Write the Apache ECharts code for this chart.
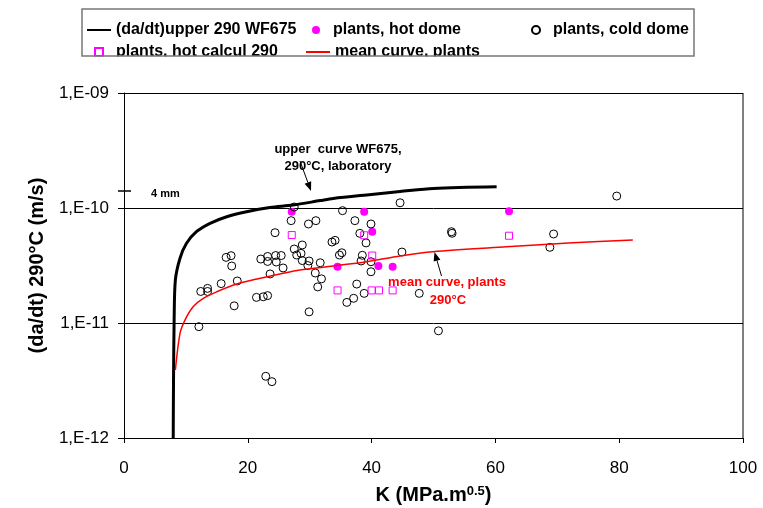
<!DOCTYPE html>
<html><head><meta charset="utf-8">
<script src="https://cdn.jsdelivr.net/npm/echarts@6/dist/echarts.min.js"></script>
<style>html,body{margin:0;padding:0;background:#fff}#c{width:763px;height:508px}</style>
</head><body><div id="c"></div>
<script>
// ---- data (K in MPa.m^0.5, da/dt in m/s) ----
const upperCurveK    = [7.95, 8.0, 8.1, 8.3, 9.05, 10.1, 11.7, 13.9, 16.6, 19.8, 23.6, 27.3, 31.7, 33.8, 39.2, 44.6, 50.0, 60.2];
const upperCurveRate = [1e-12, 3.19e-12, 1.06e-11, 2.37e-11, 3.66e-11, 4.93e-11, 6.22e-11, 7.36e-11, 8.40e-11, 9.28e-11, 1.01e-10, 1.06e-10, 1.16e-10, 1.21e-10, 1.30e-10, 1.39e-10, 1.48e-10, 1.53e-10];

const meanCurveK    = [8.3, 9.05, 9.85, 11.2, 12.8, 15.0, 18.2, 22.0, 25.2, 28.4, 33.8, 39.2, 44.6, 49.9, 61.8, 72.5, 82.2];
const meanCurveRate = [3.90e-12, 8.13e-12, 1.06e-11, 1.39e-11, 1.64e-11, 1.87e-11, 2.18e-11, 2.45e-11, 2.67e-11, 2.89e-11, 3.13e-11, 3.41e-11, 3.83e-11, 4.17e-11, 4.60e-11, 4.99e-11, 5.27e-11];

const hotDomeK    = [27.1, 38.8, 40.1, 34.5, 41.1, 43.4, 62.2];
const hotDomeRate = [9.29e-11, 9.29e-11, 6.22e-11, 3.09e-11, 3.13e-11, 3.09e-11, 9.35e-11];

const hotCalculK    = [27.1, 38.8, 40.1, 34.5, 40.0, 41.2, 43.4, 62.2];
const hotCalculRate = [5.82e-11, 5.79e-11, 3.86e-11, 1.92e-11, 1.92e-11, 1.92e-11, 1.92e-11, 5.74e-11];

const coldDomeK = [27.5, 35.3, 44.6, 27.0, 29.8, 31.0, 37.3, 39.9, 24.4, 38.1, 39.1, 33.6, 34.1, 28.8, 27.5, 27.9, 28.6, 28.8, 29.9, 29.7, 31.7, 34.8, 35.2, 38.5, 38.3, 39.9, 39.9, 44.9, 16.5, 17.3, 17.4, 22.1, 23.2, 23.2, 24.5, 25.4, 24.6, 25.7, 23.6, 30.9, 31.9, 31.3, 18.3, 15.7, 13.5, 13.5, 12.4, 17.8, 21.4, 22.5, 23.2, 29.9, 12.1, 22.9, 23.9, 37.6, 38.8, 36.0, 37.1, 47.7, 50.8, 52.9, 53.0, 69.4, 68.8, 79.6];
const coldDomeRate = [1.02e-10, 9.48e-11, 1.11e-10, 7.76e-11, 7.26e-11, 7.76e-11, 7.76e-11, 7.26e-11, 6.10e-11, 6.02e-11, 4.97e-11, 5.06e-11, 5.23e-11, 4.77e-11, 4.40e-11, 3.90e-11, 4.03e-11, 3.49e-11, 3.46e-11, 3.16e-11, 3.34e-11, 3.90e-11, 4.08e-11, 3.88e-11, 3.46e-11, 3.41e-11, 2.79e-11, 4.14e-11, 3.72e-11, 3.85e-11, 3.13e-11, 3.60e-11, 3.79e-11, 3.43e-11, 3.86e-11, 3.86e-11, 3.39e-11, 3.01e-11, 2.67e-11, 2.72e-11, 2.42e-11, 2.06e-11, 2.32e-11, 2.20e-11, 2.00e-11, 1.88e-11, 1.88e-11, 1.41e-11, 1.67e-11, 1.69e-11, 1.73e-11, 1.25e-11, 9.29e-12, 3.44e-12, 3.09e-12, 2.18e-11, 1.81e-11, 1.51e-11, 1.64e-11, 1.81e-11, 8.55e-12, 6.22e-11, 6.03e-11, 5.94e-11, 4.55e-11, 1.27e-10];

const yTickValues = [1e-12, 1e-11, 1e-10, 1e-9];
const yTickLabels = ['1,E-12', '1,E-11', '1,E-10', '1,E-09'];
const xTickStep = 20;

const names = {
  upper: '(da/dt)upper 290 WF675',
  hotDome: 'plants, hot dome',
  coldDome: 'plants, cold dome',
  hotCalc: 'plants, hot calcul 290',
  mean: 'mean curve, plants'
};

// ---- chart ----
const FONT = '"Liberation Sans", Arial, sans-serif';
const zip = (a, b) => a.map((v, i) => [v, b[i]]);
const chart = echarts.init(document.getElementById('c'), null, {renderer: 'canvas'});

function legendBox(name, left, top, w, h, padLeft, hideSymbol) {
  const l = {
    data: [name], left: left, top: top, padding: 0, itemWidth: w, itemHeight: h,
    selectedMode: false,
    textStyle: {fontFamily: FONT, fontWeight: 'bold', fontSize: 16, color: '#000', lineHeight: 16, padding: [0, 0, 0, padLeft]}
  };
  if (hideSymbol) l.itemStyle = {opacity: 0};
  return l;
}

function arrow(x1, y1, x2, y2, color) {
  const dx = x2 - x1, dy = y2 - y1, L = Math.hypot(dx, dy);
  const ux = dx / L, uy = dy / L, hl = 9, hw = 3.5;
  const bx = x2 - ux * hl, by = y2 - uy * hl;
  return [
    {type: 'line', shape: {x1: x1, y1: y1, x2: bx, y2: by}, style: {stroke: color, lineWidth: 1}, z: 100},
    {type: 'polygon', shape: {points: [[x2, y2], [bx - uy * hw, by + ux * hw], [bx + uy * hw, by - ux * hw]]}, style: {fill: color}, z: 100}
  ];
}

const option = {
  animation: false,
  backgroundColor: '#fff',
  grid: {left: 124, right: 20, top: 93, bottom: 70, containLabel: false, outerBoundsMode: 'none'},
  legend: [
    legendBox(names.upper, 86, 22, 24, 8, 0, true),
    legendBox(names.hotDome, 312, 22, 8, 8, 8),
    legendBox(names.coldDome, 531, 22, 8, 8, 8),
    legendBox(names.hotCalc, 94, 44, 8, 8, 8),
    legendBox(names.mean, 305, 44, 24, 8, 0, true)
  ],
  xAxis: {
    type: 'value', min: 0, max: 100, interval: xTickStep,
    axisLine: {onZero: false, lineStyle: {color: '#000', width: 1}},
    axisTick: {length: 5, lineStyle: {color: '#000'}},
    axisLabel: {fontFamily: FONT, fontSize: 17, color: '#000', margin: 22},
    splitLine: {show: false},
    name: 'K (MPa.m{sup|0.5})', nameLocation: 'middle', nameGap: 47,
    nameTextStyle: {fontFamily: FONT, fontWeight: 'bold', fontSize: 20, color: '#000', lineHeight: 21,
      rich: {sup: {fontFamily: FONT, fontWeight: 'bold', fontSize: 13, color: '#000', verticalAlign: 'top', lineHeight: 13}}}
  },
  yAxis: {
    type: 'log', logBase: 10, min: 1e-12, max: 1e-9,
    axisLine: {show: true, lineStyle: {color: '#000', width: 1}},
    axisTick: {show: true, length: 6, lineStyle: {color: '#000'}},
    minorTick: {show: false}, minorSplitLine: {show: false},
    axisLabel: {fontFamily: FONT, fontSize: 17, color: '#000', margin: 15,
      formatter: v => { const i = yTickValues.findIndex(t => Math.abs(Math.log10(t) - Math.log10(v)) < 1e-6); return i >= 0 ? yTickLabels[i] : ''; }},
    splitLine: {show: true, lineStyle: {color: '#000', width: 1}},
    name: '(da/dt) 290°C (m/s)', nameLocation: 'middle', nameGap: 77,
    nameTextStyle: {fontFamily: FONT, fontWeight: 'bold', fontSize: 20, color: '#000'}
  },
  series: [
    {name: names.upper, type: 'line', data: zip(upperCurveK, upperCurveRate), showSymbol: false, symbol: 'none', smooth: 0.3,
      lineStyle: {color: '#000', width: 3}, itemStyle: {color: '#000'}, z: 2},
    {name: names.hotDome, type: 'scatter', data: zip(hotDomeK, hotDomeRate), symbol: 'circle', symbolSize: 8,
      itemStyle: {color: '#FF00FF', opacity: 1}, z: 3},
    {name: names.coldDome, type: 'scatter', data: zip(coldDomeK, coldDomeRate), symbol: 'circle', symbolSize: 8,
      itemStyle: {color: 'rgba(255,255,255,0)', borderColor: '#000', borderWidth: 1, opacity: 1}, z: 3},
    {name: names.hotCalc, type: 'scatter', data: zip(hotCalculK, hotCalculRate), symbol: 'rect', symbolSize: 7,
      itemStyle: {color: 'rgba(255,255,255,0)', borderColor: '#FF00FF', borderWidth: 1, opacity: 1}, z: 3},
    {name: names.mean, type: 'line', data: zip(meanCurveK, meanCurveRate), showSymbol: false, symbol: 'none', smooth: 0.3,
      lineStyle: {color: '#FF0000', width: 1.5}, itemStyle: {color: '#FF0000'}, z: 4}
  ],
  graphic: [].concat(
    [
      {type: 'rect', shape: {x: 82, y: 56.5, width: 612, height: 14}, style: {fill: '#fff'}, z: 100},
      {type: 'rect', shape: {x: 82, y: 9, width: 612, height: 47}, style: {fill: 'none', stroke: '#777', lineWidth: 1.5}, z: 101},
      {type: 'line', shape: {x1: 743, y1: 93, x2: 743, y2: 438}, style: {stroke: '#000', lineWidth: 1}, z: 100},
      {type: 'line', shape: {x1: 118, y1: 191, x2: 131, y2: 191}, style: {stroke: '#000', lineWidth: 1.5}, z: 100},
      {type: 'text', x: 151, y: 194, style: {text: '4 mm', fontFamily: FONT, fontWeight: 'bold', fontSize: 11, fill: '#000', verticalAlign: 'middle'}, z: 100},
      {type: 'text', x: 338, y: 149, style: {text: 'upper  curve WF675,', fontFamily: FONT, fontWeight: 'bold', fontSize: 13, fill: '#000', align: 'center', verticalAlign: 'middle'}, z: 100},
      {type: 'text', x: 338, y: 166, style: {text: '290°C, laboratory', fontFamily: FONT, fontWeight: 'bold', fontSize: 13, fill: '#000', align: 'center', verticalAlign: 'middle'}, z: 100},
      {type: 'text', x: 447, y: 282, style: {text: 'mean curve, plants', fontFamily: FONT, fontWeight: 'bold', fontSize: 13, fill: '#FF0000', align: 'center', verticalAlign: 'middle'}, z: 100},
      {type: 'text', x: 448, y: 300, style: {text: '290°C', fontFamily: FONT, fontWeight: 'bold', fontSize: 13, fill: '#FF0000', align: 'center', verticalAlign: 'middle'}, z: 100}
    ],
    arrow(300, 161, 311, 191, '#000'),
    arrow(441.5, 276, 434.5, 252, '#000')
  )
};
chart.setOption(option);
</script></body></html>
